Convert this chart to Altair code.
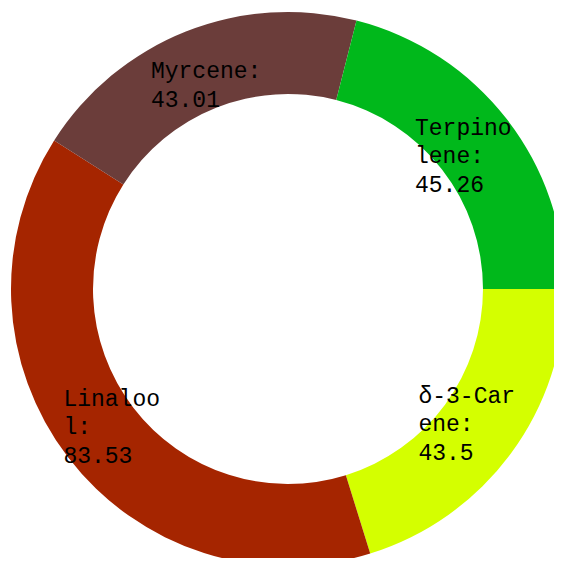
import math
import altair as alt
import pandas as pd

# Slices in clockwise order, starting from 3 o'clock
names = ["δ-3-Carene", "Linalool", "Myrcene", "Terpinolene"]
values = [43.5, 83.53, 43.01, 45.26]
colors = ["#d4ff00", "#a52500", "#6b3d3a", "#00b81b"]
label_lines = [
    ["δ-3-Car", "ene:", "43.5"],
    ["Linaloo", "l:", "83.53"],
    ["Myrcene:", "43.01"],
    ["Terpino", "lene:", "45.26"],
]

# pad lines (monospace) so a centred block keeps its lines left-aligned;
# a zero-width space at the end keeps the padding from being trimmed
labels = []
for lines in label_lines:
    w = max(len(s) for s in lines)
    labels.append([s + "\u00a0" * (w - len(s)) + "\u200b" for s in lines])

df = pd.DataFrame({
    "name": names,
    "value": values,
    "order": list(range(len(names))),
    "label": labels,
    "nlines": [len(l) for l in label_lines],
})

total = sum(values)
start = math.pi / 2
theta_scale = alt.Scale(domain=[0, total], range=[start, start + 2 * math.pi])

CX, CY = 280, 281

base = alt.Chart(df).transform_stack(
    stack="value", groupby=[], as_=["v0", "v1"],
    sort=[alt.SortField("order", order="ascending")],
).transform_calculate(mid="(datum.v0 + datum.v1) / 2")

arcs = base.mark_arc(outerRadius=277, innerRadius=195).encode(
    theta=alt.Theta("v0:Q", scale=theta_scale, stack=None),
    theta2="v1:Q",
    color=alt.Color("name:N", scale=alt.Scale(domain=names, range=colors), legend=None),
    x=alt.value(CX),
    y=alt.value(CY),
)

def text_layer(n, dy):
    return base.transform_filter(f"datum.nlines == {n}").mark_text(
        radius=222, font="Liberation Mono", fontSize=23, lineHeight=28.5,
        align="center", baseline="alphabetic", color="black", dy=dy,
    ).encode(
        theta=alt.Theta("mid:Q", scale=theta_scale, stack=None),
        text="label",
        x=alt.value(CX),
        y=alt.value(CY),
    )

chart = alt.layer(arcs, text_layer(3, -18), text_layer(2, -4.5)).properties(
    width=546, height=550, padding=0,
    autosize=alt.AutoSizeParams(type="none"),
).configure_view(stroke=None)

chart.save("out.html", embed_options={"renderer": "svg", "actions": False})
